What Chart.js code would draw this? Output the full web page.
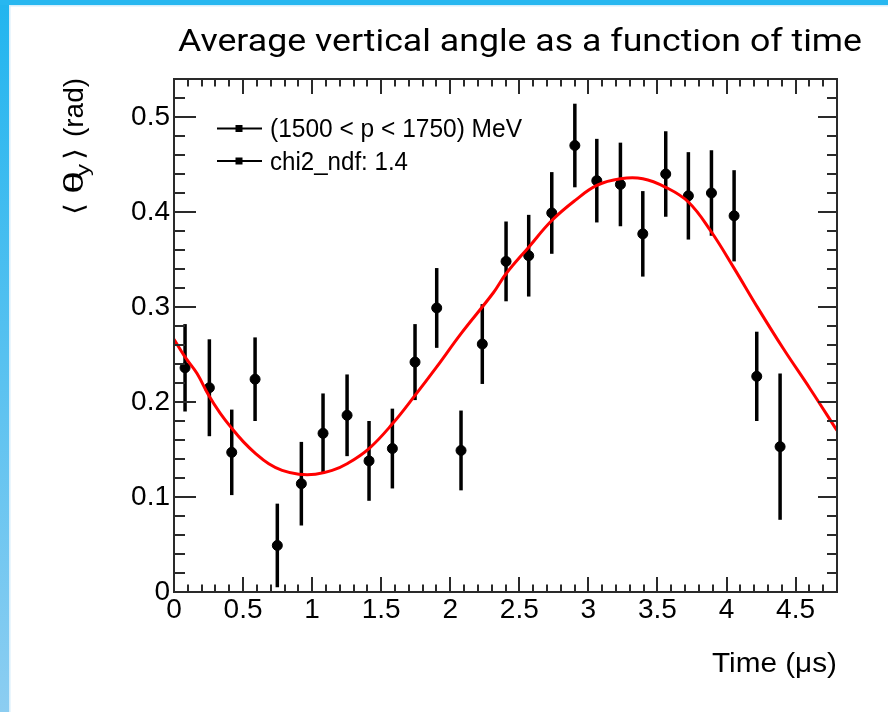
<!DOCTYPE html>
<html><head><meta charset="utf-8">
<script src="https://cdn.jsdelivr.net/npm/chart.js@4.4.0/dist/chart.umd.min.js"></script>
<style>html,body{margin:0;padding:0;background:#fff;overflow:hidden}</style>
</head><body>
<canvas id="c" width="888" height="712"></canvas>
<script>
// ---- data ----
const xTickValues = [0, 0.5, 1, 1.5, 2, 2.5, 3, 3.5, 4, 4.5];
const xTickLabels = ['0', '0.5', '1', '1.5', '2', '2.5', '3', '3.5', '4', '4.5'];
const yTickValues = [0, 0.1, 0.2, 0.3, 0.4, 0.5];
const yTickLabels = ['0', '0.1', '0.2', '0.3', '0.4', '0.5'];

const timeUs = [0.080, 0.256, 0.418, 0.587, 0.748, 0.922, 1.079, 1.253, 1.412, 1.581, 1.745, 1.902, 2.078, 2.232,
                2.404, 2.568, 2.735, 2.902, 3.061, 3.232, 3.394, 3.560, 3.724, 3.891, 4.055, 4.219, 4.388];
const meanThetaY = [0.236, 0.215, 0.147, 0.224, 0.049, 0.114, 0.167, 0.186, 0.138, 0.151, 0.242, 0.299, 0.149, 0.261,
                    0.348, 0.354, 0.399, 0.470, 0.433, 0.429, 0.377, 0.440, 0.417, 0.420, 0.396, 0.227, 0.153];
const errThetaY = [0.046, 0.051, 0.045, 0.044, 0.044, 0.044, 0.042, 0.043, 0.042, 0.042, 0.040, 0.042, 0.042, 0.042,
                   0.042, 0.043, 0.043, 0.044, 0.044, 0.044, 0.045, 0.045, 0.046, 0.045, 0.048, 0.047, 0.077];

const fitTime = [0, 0.082, 0.167, 0.251, 0.335, 0.42, 0.503, 0.589, 0.686, 0.783, 0.903, 1.024, 1.145, 1.253, 1.412,
                 1.581, 1.745, 1.902, 2.078, 2.312, 2.404, 2.568, 2.735, 2.902, 3.061, 3.232, 3.394, 3.560, 3.724,
                 3.886, 4.05, 4.231, 4.412, 4.605, 4.80];
const fitTheta = [0.266, 0.247, 0.230, 0.207, 0.188, 0.172, 0.158, 0.146, 0.135, 0.128, 0.124, 0.124, 0.128, 0.135, 0.151,
                  0.177, 0.207, 0.237, 0.272, 0.315, 0.335, 0.363, 0.391, 0.412, 0.428, 0.435, 0.435, 0.426, 0.4105,
                  0.380, 0.342, 0.298, 0.256, 0.214, 0.170];

const titleText = 'Average vertical angle as a function of time';
const legendTexts = ['(1500 < p < 1750) MeV', 'chi2_ndf: 1.4'];
const xAxisTitle = 'Time (\u03bcs)';
const yAxisTitleParts = ['\u27e8', '\u03b8', 'y', '\u27e9', '(rad)'];

const FONT = '"Liberation Sans", Arial, Helvetica, sans-serif';

function fitText(ctx, text, x, y, w, align) {
  const m = ctx.measureText(text).width;
  ctx.save();
  ctx.translate(x, y);
  ctx.scale(w / m, 1);
  ctx.textAlign = 'left';
  ctx.fillText(text, align === 'right' ? -m : 0, 0);
  ctx.restore();
}

const backgroundPlugin = {
  id: 'bg',
  beforeDraw(chart) {
    const ctx = chart.ctx;
    ctx.save();
    ctx.fillStyle = '#ffffff';
    ctx.fillRect(0, 0, chart.width, chart.height);
    const g = ctx.createLinearGradient(0, 0, 0, chart.height);
    g.addColorStop(0, '#22b5ef');
    g.addColorStop(1, '#8ccdf1');
    ctx.fillStyle = g;
    ctx.fillRect(0, 0, 9, chart.height);
    ctx.fillStyle = '#27b7f0';
    ctx.fillRect(0, 0, chart.width, 5);
    ctx.fillStyle = '#d6eefb';
    ctx.fillRect(9, 5, 1.5, chart.height);
    ctx.fillRect(9, 5, chart.width, 1.5);
    ctx.restore();
  }
};

const errorBarPlugin = {
  id: 'errbars',
  beforeDatasetsDraw(chart) {
    const ctx = chart.ctx, xs = chart.scales.x, ys = chart.scales.y;
    ctx.save();
    ctx.strokeStyle = '#000';
    ctx.lineWidth = 3.5;
    ctx.lineCap = 'butt';
    for (let i = 0; i < timeUs.length; i++) {
      const px = xs.getPixelForValue(timeUs[i]);
      ctx.beginPath();
      ctx.moveTo(px, ys.getPixelForValue(meanThetaY[i] - errThetaY[i]));
      ctx.lineTo(px, ys.getPixelForValue(meanThetaY[i] + errThetaY[i]));
      ctx.stroke();
    }
    ctx.restore();
  }
};

const framePlugin = {
  id: 'frame',
  afterDatasetsDraw(chart) {
    const ctx = chart.ctx, a = chart.chartArea, xs = chart.scales.x, ys = chart.scales.y;
    ctx.save();
    ctx.strokeStyle = '#2a2a2a';
    ctx.lineWidth = 2;
    for (let k = 0; k <= 48; k++) {
      const px = Math.round(xs.getPixelForValue(k / 10));
      const L = k % 5 === 0 ? 15 : 7.5;
      ctx.beginPath();
      ctx.moveTo(px, a.bottom); ctx.lineTo(px, a.bottom - L);
      ctx.moveTo(px, a.top); ctx.lineTo(px, a.top + L);
      ctx.stroke();
    }
    for (let k = 0; k <= 27; k++) {
      const py = Math.round(ys.getPixelForValue(k * 0.02));
      const major = k % 5 === 0;
      ctx.beginPath();
      ctx.moveTo(a.left, py); ctx.lineTo(a.left + (major ? 22 : 11), py);
      ctx.moveTo(a.right, py); ctx.lineTo(a.right - (major ? 19 : 10), py);
      ctx.stroke();
    }
    ctx.strokeRect(a.left, a.top, a.right - a.left, a.bottom - a.top);

    // legend
    ctx.fillStyle = '#000';
    ctx.strokeStyle = '#000';
    ctx.lineWidth = 2;
    const ly = [128.5, 161];
    for (let i = 0; i < 2; i++) {
      ctx.beginPath();
      ctx.moveTo(217, ly[i]); ctx.lineTo(262, ly[i]);
      ctx.stroke();
      ctx.fillRect(235.5, ly[i] - 3.5, 7, 7);
    }
    ctx.font = '25px ' + FONT;
    ctx.textBaseline = 'alphabetic';
    fitText(ctx, legendTexts[0], 270, 137, 252);
    fitText(ctx, legendTexts[1], 270, 169.5, 138);
    ctx.restore();
  },
  afterDraw(chart) {
    const ctx = chart.ctx;
    ctx.save();
    ctx.fillStyle = '#000';
    ctx.textBaseline = 'alphabetic';
    ctx.font = '31px Roboto, "Open Sans", sans-serif';
    fitText(ctx, titleText, 178, 51, 684);
    ctx.font = '27px ' + FONT;
    fitText(ctx, xAxisTitle, 837, 672, 125, 'right');
    // y axis title, rotated, reading bottom to top
    ctx.translate(83, 215);
    ctx.rotate(-Math.PI / 2);
    const big = '27px ' + FONT;
    ctx.font = '27px "DejaVu Sans", sans-serif';
    fitText(ctx, yAxisTitleParts[0], 0, 0, 12);
    ctx.font = big;
    fitText(ctx, yAxisTitleParts[1], 21, 0, 23);
    ctx.font = '18px ' + FONT;
    fitText(ctx, yAxisTitleParts[2], 39, 6, 12);
    ctx.font = '27px "DejaVu Sans", sans-serif';
    fitText(ctx, yAxisTitleParts[3], 55, 0, 12);
    ctx.font = big;
    fitText(ctx, yAxisTitleParts[4], 78, 0, 59);
    ctx.restore();
  }
};

new Chart(document.getElementById('c'), {
  data: {
    datasets: [
      {
        type: 'line',
        label: 'fit',
        data: fitTime.map((t, i) => ({ x: t, y: fitTheta[i] })),
        borderColor: '#ff0000',
        borderWidth: 3,
        pointRadius: 0,
        tension: 0.4,
        fill: false,
        order: 1
      },
      {
        type: 'scatter',
        label: legendTexts[0],
        data: timeUs.map((t, i) => ({ x: t, y: meanThetaY[i] })),
        backgroundColor: '#000',
        borderColor: '#000',
        pointRadius: 5,
        pointHoverRadius: 5,
        order: 2
      }
    ]
  },
  options: {
    responsive: false,
    animation: false,
    devicePixelRatio: 1,
    layout: { padding: { top: 79, right: 51, bottom: 60, left: 0 } },
    plugins: { legend: { display: false }, title: { display: false }, tooltip: { enabled: false } },
    events: [],
    scales: {
      x: {
        type: 'linear', min: 0, max: 4.8,
        grid: { display: false, drawTicks: false },
        border: { display: false },
        afterBuildTicks: s => { s.ticks = xTickValues.map(v => ({ value: v })); },
        afterFit: s => { s.height = 60; },
        ticks: {
          autoSkip: false, maxRotation: 0, padding: 1, color: '#000',
          font: { family: FONT, size: 28 },
          callback: (v, i) => xTickLabels[i]
        }
      },
      y: {
        type: 'linear', min: 0, max: 0.54,
        grid: { display: false, drawTicks: false },
        border: { display: false },
        afterBuildTicks: s => { s.ticks = yTickValues.map(v => ({ value: v })); },
        afterFit: s => { s.width = 174; },
        ticks: {
          autoSkip: false, padding: 4, color: '#000',
          font: { family: FONT, size: 28 },
          callback: (v, i) => yTickLabels[i]
        }
      }
    }
  },
  plugins: [backgroundPlugin, errorBarPlugin, framePlugin]
});
</script>
</body></html>
